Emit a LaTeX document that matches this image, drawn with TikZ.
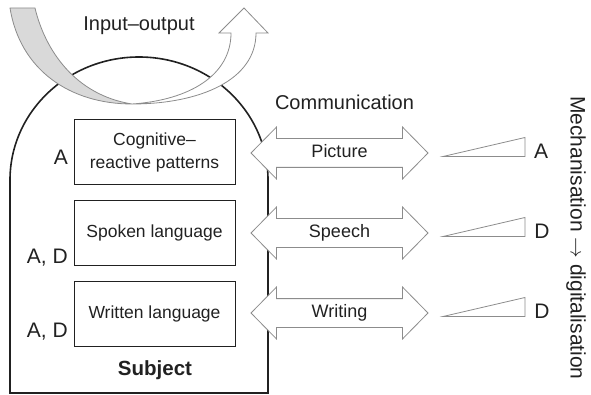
\documentclass[tikz,border=0pt]{standalone}
\usepackage{fontspec}
\setmainfont{Liberation Sans}
\usepackage{tikz}
\usetikzlibrary{shapes.arrows}
\definecolor{ink}{rgb}{0.13,0.13,0.13}
\definecolor{rim}{rgb}{0.55,0.55,0.55}

\begin{document}
\begin{tikzpicture}[x=1pt, y=-1pt,
  every node/.style = {text=ink, inner sep=0pt},
  box/.style = {draw=ink, line width=1pt, minimum width=161pt, minimum height=65pt,
    align=center, font=\fontsize{17.5}{23}\selectfont},
  commarrow/.style = {double arrow, draw=rim, fill=white, line width=0.8pt,
    minimum height=177pt, minimum width=51pt, double arrow head extend=11.5pt,
    double arrow tip angle=91, text height=13pt, text depth=4pt, inner ysep=5.5pt,
    font=\fontsize{18}{20}\selectfont},
  ramp/.style = {draw=rim, line width=0.8pt},
  grade/.style = {font=\fontsize{21}{24}\selectfont},
  title/.style = {font=\fontsize{20}{24}\selectfont}
]
\useasboundingbox (0,0) rectangle (591,395);

% subject outline
\draw[ink, line width=1.6pt] (10,393) -- (10,180)
  .. controls (10,112) and (67.75,57) .. (139,57)
  .. controls (210.25,57) and (268,112) .. (268,180) -- (268,393) -- cycle;

% input-output ribbon
\filldraw[fill=gray!30, draw=rim, line width=0.8pt] (10,8) -- (35,8)
  .. controls (45,50) and (75,95) .. (132,104)
  .. controls (70,104) and (20,70) .. (10,8) -- cycle;
\filldraw[fill=white, draw=rim, line width=0.8pt] (132,104)
  .. controls (200,104) and (256,80) .. (256,33) -- (268,33) -- (244,8)
  -- (219,33) -- (231,33) .. controls (231,75) and (190,100) .. (132,104) -- cycle;
\node[title, anchor=base] (io) at (139,31) {Input–output};

% inner forms of the subject
\node[box] (patterns) at (154.5,152.5) {Cognitive–\\reactive patterns};
\node[box] (spoken) at (154.5,233) {Spoken language};
\node[box] (written) at (154.5,314) {Written language};
\node[grade, anchor=base east] (patternsAD) at (68,165) {A};
\node[grade, anchor=base east] (spokenAD) at (68,263) {A, D};
\node[grade, anchor=base east] (writtenAD) at (68,337) {A, D};
\node[title, font=\bfseries\fontsize{20.5}{24}\selectfont, anchor=base] (subject) at (155,375) {Subject};

% communication channels
\node[title, anchor=base] (comm) at (344.5,110) {Communication};
\node[commarrow] (picture) at (339.5,153) {Picture};
\node[commarrow] (speech) at (339.5,233) {Speech};
\node[commarrow] (writing) at (339.5,313) {Writing};

% degree of mechanisation
\draw[ramp] (443,156.5) -- (525,156.5) -- (525,137.5) -- cycle;
\draw[ramp] (443,236.5) -- (525,236.5) -- (525,217.5) -- cycle;
\draw[ramp] (443,316.5) -- (525,316.5) -- (525,297.5) -- cycle;
\node[grade] (pictureA) at (541,151) {A};
\node[grade] (speechD) at (542,231) {D};
\node[grade] (writingD) at (542,311) {D};
\node[grade, rotate=-90] (mech) at (576,238) {Mechanisation $\rightarrow$ digitalisation};
\end{tikzpicture}
\end{document}
